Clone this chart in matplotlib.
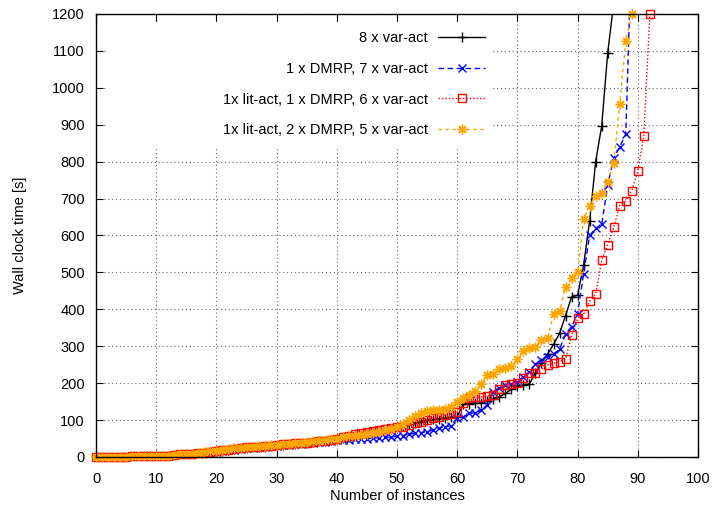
import matplotlib
matplotlib.use("Agg")
import matplotlib.pyplot as plt
from matplotlib.patches import Rectangle

plt.rcParams['font.family'] = ['Liberation Sans', 'DejaVu Sans']
plt.rcParams['font.size'] = 10.5

# sorted wall clock times per instance (index = number of instances)
var_act_8 = [0, 0, 1, 1, 1, 1, 1, 1, 2, 2, 2, 2, 3, 5, 6, 7, 8, 9, 11, 13,
             15, 17, 19, 21, 23, 24, 26, 27, 28, 30, 31, 33, 34, 35, 37, 38, 40, 42, 44, 46,
             48, 51, 54, 57, 60, 65, 68, 70, 73, 76, 80, 84, 88, 92, 96, 99, 102, 104, 106, 108,
             109, 144, 144, 145, 147, 152, 157, 163, 172, 183, 192, 195, 198, 228, 255, 278, 305, 335, 383, 434,
             438, 520, 640, 800, 897, 1095, 1230]

dmrp_1 = [0, 0, 1, 1, 1, 1, 1, 1, 2, 2, 2, 2, 3, 5, 6, 7, 8, 9, 10, 12,
          14, 16, 18, 20, 22, 24, 25, 27, 28, 29, 31, 32, 33, 35, 36, 37, 38, 40, 41, 43,
          45, 46, 47, 48, 49, 50, 51, 52, 53, 54, 56, 58, 62, 64, 66, 69, 73, 78, 82, 85,
          105, 109, 118, 120, 127, 141, 177, 186, 195, 198, 204, 217, 231, 251, 263, 272, 279, 292, 333, 353,
          387, 497, 600, 619, 630, 737, 810, 840, 875, 1400]

lit_dmrp_1 = [1, 1, 1, 1, 1, 1, 2, 2, 2, 2, 2, 3, 3, 6, 7, 8, 9, 10, 12, 14,
              16, 18, 20, 22, 24, 26, 27, 28, 30, 31, 33, 34, 35, 37, 37, 38, 40, 42, 44, 47,
              50, 54, 58, 62, 65, 68, 70, 72, 75, 78, 80, 82, 86, 91, 96, 100, 105, 109, 114, 117,
              121, 147, 159, 162, 163, 165, 168, 183, 195, 197, 201, 213, 227, 227, 238, 249, 254, 258, 265, 330,
              376, 387, 422, 441, 534, 575, 622, 681, 694, 721, 776, 870, 1200]

lit_dmrp_2 = [0, 1, 1, 1, 1, 1, 2, 2, 2, 2, 3, 3, 3, 6, 7, 8, 9, 11, 13, 15,
              17, 19, 21, 23, 25, 27, 28, 29, 31, 32, 33, 35, 36, 37, 38, 40, 42, 44, 46, 48,
              50, 53, 56, 58, 60, 62, 65, 68, 72, 76, 82, 88, 100, 110, 118, 125, 127, 128, 130, 135,
              150, 160, 168, 180, 198, 222, 225, 238, 240, 246, 265, 288, 294, 297, 317, 321, 386, 395, 461, 484,
              502, 645, 681, 707, 715, 746, 797, 956, 1128, 1200]

x_ticks = list(range(0, 101, 10))
y_ticks = list(range(0, 1201, 100))

fig = plt.figure(figsize=(7.14, 5.09), dpi=100)
ax = fig.add_axes([0.1345, 0.1022, 0.8431, 0.8703])

ax.plot(range(len(var_act_8)), var_act_8, color="black", linestyle="-", lw=1.0,
        marker="+", ms=7, mew=1.0, label="8 x var-act")
ax.plot(range(len(dmrp_1)), dmrp_1, color="blue", linestyle=(0, (4, 2.5)), lw=1.0,
        marker="x", ms=5.5, mew=1.0, label="1 x DMRP, 7 x var-act")
ax.plot(range(len(lit_dmrp_1)), lit_dmrp_1, color="red", linestyle=(0, (1, 1.5)), lw=1.0,
        marker="s", ms=5.5, mew=1.0, fillstyle="none", clip_on=False,
        label="1x lit-act, 1 x DMRP, 6 x var-act")
ax.plot(range(len(lit_dmrp_2)), lit_dmrp_2, color="#ffa500", linestyle=(0, (2.5, 2.5)), lw=1.0,
        marker=(8, 2, 0), ms=7, mew=1.0, clip_on=False,
        label="1x lit-act, 2 x DMRP, 5 x var-act")

ax.set_xlim(0, 100)
ax.set_ylim(0, 1200)
ax.set_xticks(x_ticks)
ax.set_yticks(y_ticks)
ax.tick_params(direction="in", length=5, top=True, right=True)
ax.tick_params(axis="x", pad=11)
ax.tick_params(axis="y", pad=8)
ax.set_axisbelow(True)
ax.grid(True, color="0.4", linestyle=(0, (1, 2.5)), linewidth=0.8)

# white area behind the key hides the grid
ax.add_patch(Rectangle((0.02, 0.70), 0.64, 0.282, transform=ax.transAxes,
                       facecolor="white", edgecolor="none", zorder=1))

ax.set_xlabel("Number of instances", labelpad=2)
ax.set_ylabel("Wall clock time [s]", labelpad=18)

ax.legend(loc="upper right", bbox_to_anchor=(0.646, 0.961), frameon=False,
          markerfirst=False, handlelength=3.2, handletextpad=0.7,
          labelspacing=1.14, borderpad=0, borderaxespad=0)

for s in ax.spines.values():
    s.set_linewidth(1.0)

fig.savefig("out.png", dpi=100)
